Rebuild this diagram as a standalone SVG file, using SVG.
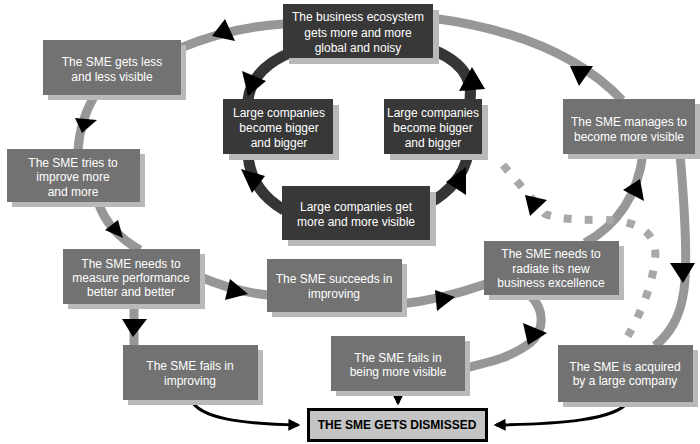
<svg xmlns="http://www.w3.org/2000/svg" width="700" height="444" viewBox="0 0 700 444">
<defs>
<style>
.band{fill:none;stroke:#979797;stroke-width:9}
.dark{fill:none;stroke:#353535;stroke-width:11}
.dots{fill:none;stroke:#a8a8a8;stroke-width:8;stroke-dasharray:8 13}
.thin{fill:none;stroke:#000;stroke-width:3;marker-end:url(#ah)}
.head{fill:#000}
.sh{fill:#b9b9b9}
.bd{fill:#383838}
.bm{fill:#727272}
.t{font-family:"Liberation Sans",Arial,sans-serif;font-size:12px;fill:#fff;text-anchor:middle}
.tb{font-family:"Liberation Sans",Arial,sans-serif;font-size:12px;font-weight:bold;fill:#000;text-anchor:middle}
</style>
<marker id="ah" viewBox="0 0 10 10" refX="8" refY="5" markerWidth="4.5" markerHeight="4" orient="auto" markerUnits="strokeWidth">
<path d="M0,0 L10,5 L0,10 z" fill="#000"/>
</marker>
</defs>
<rect width="700" height="444" fill="#fff"/>
<g id="connectors">
<path class="band" d="M284 24 Q230 27 178 49"/>
<path class="band" d="M95 95 Q80 120 78 150"/>
<path class="band" d="M98 202 Q108 232 140 250"/>
<path class="band" d="M198 276 Q235 292 268 295"/>
<path class="band" d="M134 304 L134 345"/>
<path class="band" d="M400 304 Q440 300 486 284"/>
<path class="band" d="M585 243 Q635 215 643 154"/>
<path class="band" d="M530 295 C545 310 545 330 530 343 C510 358 490 362 465 368"/>
<path class="band" d="M432 18 Q560 35 622 100"/>
<path class="band" d="M680 154 C684 200 688 260 684 290 C680 320 668 335 655 346"/>
<path class="dots" d="M503 165 L545 214 Q560 220 600 220 Q660 220 655 260 Q650 300 622 346"/>
<path class="dark" d="M292 52 Q252 68 248 100"/>
<path class="dark" d="M248 154 Q250 190 284 210"/>
<path class="dark" d="M428 204 Q462 185 468 154"/>
<path class="dark" d="M470 100 Q475 65 428 48"/>
<polygon class="head" points="225,19 235,41 212,36"/>
<polygon class="head" points="75,118 97,120 82,133"/>
<polygon class="head" points="105,230 118,220 123,238"/>
<polygon class="head" points="230,279 248,294 225,300"/>
<polygon class="head" points="122,319 147,319 133,337"/>
<polygon class="head" points="435,290 455,297 437,311"/>
<polygon class="head" points="623,190 640,179 644,201"/>
<polygon class="head" points="523,323 547,333 528,345"/>
<polygon class="head" points="570,66 593,66 579,86"/>
<polygon class="head" points="670,263 695,263 683,283"/>
<polygon class="head" points="525,195 547,200 530,216"/>
<polygon class="head" points="242,71 266,81 248,96"/>
<polygon class="head" points="241,169 265,176 252,193"/>
<polygon class="head" points="446,182 466,167 466,195"/>
<polygon class="head" points="459,91 472,67 485,89"/>
<path class="thin" d="M191 400 C200 418 240 424 298 425"/>
<path class="thin" d="M398 391 L398 403"/>
<path class="thin" d="M628 402 C615 420 560 424 496 425"/>
</g>
<g id="n-ecosystem">
<rect class="sh" x="289" y="10" width="150" height="54"/>
<rect class="bd" x="283" y="4" width="150" height="54"/>
<text class="t" x="358" y="21">The business ecosystem</text>
<text class="t" x="358" y="37">gets more and more</text>
<text class="t" x="358" y="52">global and noisy</text>
</g>
<g id="n-less-visible">
<rect class="sh" x="48" y="45" width="138" height="55"/>
<rect class="bm" x="43" y="40" width="138" height="55"/>
<text class="t" x="112" y="66">The SME gets less</text>
<text class="t" x="112" y="81">and less visible</text>
</g>
<g id="n-lc-left">
<rect class="sh" x="229" y="105" width="110" height="55"/>
<rect class="bd" x="223" y="99" width="110" height="55"/>
<text class="t" x="279" y="117">Large companies</text>
<text class="t" x="279" y="132">become bigger</text>
<text class="t" x="279" y="147">and bigger</text>
</g>
<g id="n-lc-right">
<rect class="sh" x="390" y="105" width="98" height="55"/>
<rect class="bd" x="384" y="99" width="98" height="55"/>
<text class="t" x="433" y="117">Large companies</text>
<text class="t" x="433" y="132">become bigger</text>
<text class="t" x="433" y="147">and bigger</text>
</g>
<g id="n-lc-visible">
<rect class="sh" x="288" y="192" width="148" height="54"/>
<rect class="bd" x="282" y="186" width="148" height="54"/>
<text class="t" x="356" y="211">Large companies get</text>
<text class="t" x="356" y="226">more and more visible</text>
</g>
<g id="n-manages">
<rect class="sh" x="568" y="104" width="132" height="55"/>
<rect class="bm" x="563" y="99" width="132" height="55"/>
<text class="t" x="629" y="126">The SME manages to</text>
<text class="t" x="629" y="141">become more visible</text>
</g>
<g id="n-tries">
<rect class="sh" x="12" y="154" width="133" height="53"/>
<rect class="bm" x="7" y="149" width="133" height="53"/>
<text class="t" x="73" y="167">The SME tries to</text>
<text class="t" x="73" y="181">improve more</text>
<text class="t" x="73" y="196">and more</text>
</g>
<g id="n-measure">
<rect class="sh" x="68" y="254" width="137" height="55"/>
<rect class="bm" x="63" y="249" width="137" height="55"/>
<text class="t" x="131" y="268">The SME needs to</text>
<text class="t" x="131" y="282">measure performance</text>
<text class="t" x="131" y="296">better and better</text>
</g>
<g id="n-succeeds">
<rect class="sh" x="272" y="264" width="135" height="53"/>
<rect class="bm" x="267" y="259" width="135" height="53"/>
<text class="t" x="334" y="283">The SME succeeds in</text>
<text class="t" x="334" y="298">improving</text>
</g>
<g id="n-radiate">
<rect class="sh" x="489" y="246" width="135" height="54"/>
<rect class="bm" x="484" y="241" width="135" height="54"/>
<text class="t" x="551" y="258">The SME needs to</text>
<text class="t" x="551" y="273">radiate its new</text>
<text class="t" x="551" y="287">business excellence</text>
</g>
<g id="n-fails-improving">
<rect class="sh" x="128" y="350" width="135" height="55"/>
<rect class="bm" x="123" y="345" width="135" height="55"/>
<text class="t" x="190" y="370">The SME fails in</text>
<text class="t" x="190" y="385">improving</text>
</g>
<g id="n-fails-visible">
<rect class="sh" x="336" y="341" width="134" height="55"/>
<rect class="bm" x="331" y="336" width="134" height="55"/>
<text class="t" x="398" y="362">The SME fails in</text>
<text class="t" x="398" y="376">being more visible</text>
</g>
<g id="n-acquired">
<rect class="sh" x="563" y="350" width="135" height="57"/>
<rect class="bm" x="558" y="345" width="135" height="57"/>
<text class="t" x="625" y="371">The SME is acquired</text>
<text class="t" x="625" y="385">by a large company</text>
</g>
<g id="n-dismissed">
<rect x="308.5" y="409.5" width="178" height="31" fill="#c4c4c4" stroke="#000" stroke-width="3"/>
<text class="tb" x="397" y="429">THE SME GETS DISMISSED</text>
</g>
</svg>
